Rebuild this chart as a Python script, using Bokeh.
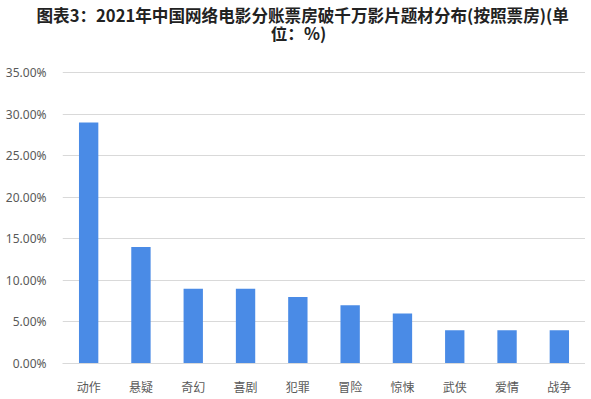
from bokeh.plotting import figure
from bokeh.models import FactorRange, FixedTicker, PrintfTickFormatter, ColumnDataSource, Label, Title
from bokeh.embed import file_html
from bokeh.resources import INLINE

categories = ["动作", "悬疑", "奇幻", "喜剧", "犯罪", "冒险", "惊悚", "武侠", "爱情", "战争"]
shares = [29.0, 14.0, 9.0, 9.0, 8.0, 7.0, 6.0, 4.0, 4.0, 4.0]
y_ticks = [0, 5, 10, 15, 20, 25, 30, 35]
title_line1 = "图表3：2021年中国网络电影分账票房破千万影片题材分布(按照票房)(单"
title_line2 = "位：%)"

TOP = 28                      # height taken by the first title line
FW, FH = 523, 365 - TOP
Y_TOP = 35 * FH / 291.0       # frame reaches above the 35% line so the 2nd title line fits
src = ColumnDataSource(dict(cat=categories, val=shares))

p = figure(frame_width=FW, frame_height=FH, x_range=FactorRange(*categories, range_padding=0),
           y_range=(0, Y_TOP), output_backend="svg", toolbar_location=None, title=None,
           min_border_left=62, min_border_right=0, min_border_top=0, min_border_bottom=0)

p.add_layout(Title(text=title_line1, align="left", offset=-26, standoff=0,
                   text_font="Noto Sans CJK SC", text_font_style="bold",
                   text_font_size="16.6px", text_color="#222222"), "above")
p.add_layout(Label(x=236, y=FH - (34 - TOP), x_units="screen", y_units="screen", text=title_line2,
                   text_align="center", text_baseline="middle", text_font="Noto Sans CJK SC",
                   text_font_style="bold", text_font_size="16.6px", text_color="#222222"))

p.vbar(x="cat", top="val", width=0.37, source=src, color="#4a8be6", line_color=None)

p.outline_line_color = None
p.xgrid.grid_line_color = None
p.ygrid.grid_line_color = "#d9d9d9"
p.ygrid.grid_line_width = 1

p.yaxis.ticker = FixedTicker(ticks=y_ticks)
p.yaxis.formatter = PrintfTickFormatter(format="%.2f%%")
p.yaxis.axis_line_color = None
p.yaxis.major_tick_line_color = None
p.yaxis.minor_tick_line_color = None
p.yaxis.major_label_text_font = "Noto Sans"
p.yaxis.major_label_text_font_size = "12px"
p.yaxis.major_label_text_color = "#595959"
p.yaxis.major_label_standoff = 10

p.xaxis.axis_line_color = "#d9d9d9"
p.xaxis.major_tick_line_color = None
p.xaxis.minor_tick_line_color = None
p.xaxis.major_label_text_font = "Noto Sans CJK SC"
p.xaxis.major_label_text_font_size = "12px"
p.xaxis.major_label_text_color = "#595959"
p.xaxis.major_label_standoff = 8

open("out.html", "w").write(file_html(p, INLINE))
